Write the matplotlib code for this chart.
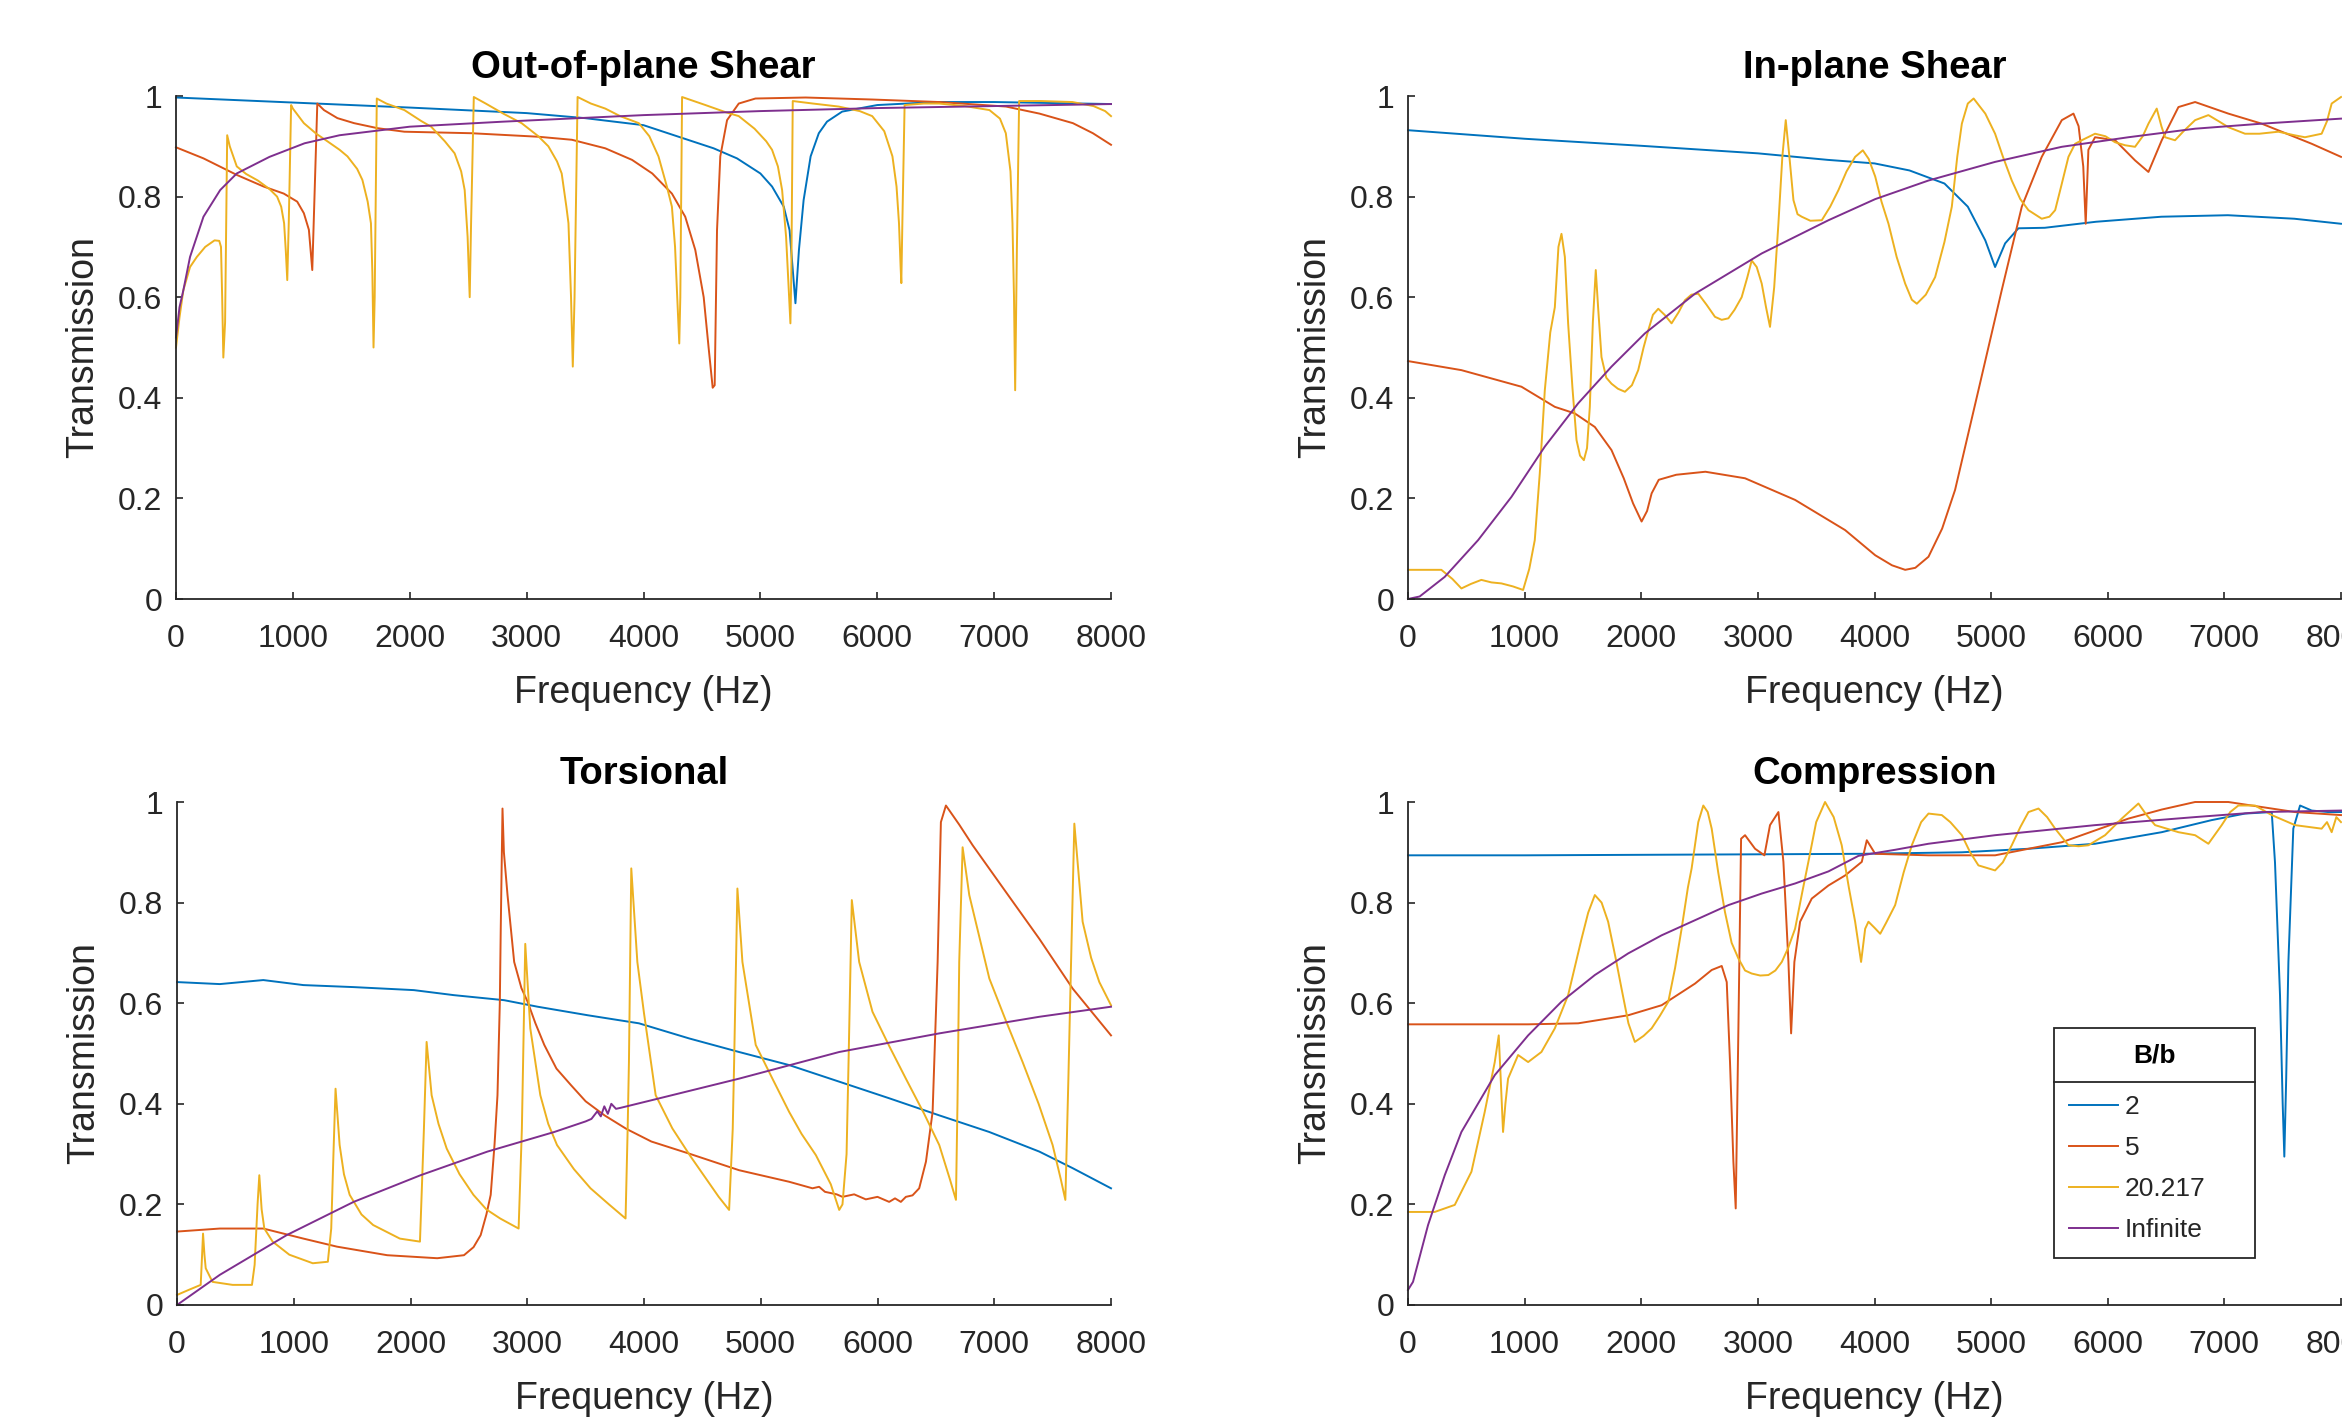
import matplotlib
matplotlib.use("Agg")
import matplotlib.pyplot as plt
from matplotlib.lines import Line2D

plt.rcParams['font.family'] = ['Liberation Sans', 'DejaVu Sans']

C_BLUE = '#0072BD'
C_RED = '#D95319'
C_YEL = '#EDB120'
C_PUR = '#7E2F8E'

series_labels = ['2', '5', '20.217', 'Infinite']
x_ticks = [0, 1000, 2000, 3000, 4000, 5000, 6000, 7000, 8000]
y_ticks = [0, 0.2, 0.4, 0.6, 0.8, 1]
y_ticklabels = ['0', '0.2', '0.4', '0.6', '0.8', '1']

# ---------------- Out-of-plane Shear ----------------
oop_blue_f = [0, 1000, 2000, 3000, 3500, 4000, 4300, 4600, 4800, 5000, 5100, 5200, 5250, 5300,
              5330, 5370, 5430, 5500, 5570, 5700, 6000, 6500, 7000, 7500, 8000]
oop_blue_t = [0.997, 0.987, 0.977, 0.966, 0.956, 0.942, 0.919, 0.896, 0.876, 0.846, 0.82, 0.78, 0.733, 0.588,
              0.694, 0.793, 0.88, 0.926, 0.949, 0.969, 0.982, 0.988, 0.988, 0.986, 0.984]

oop_red_f = [0, 235, 521, 750, 922, 1037, 1094, 1137, 1166, 1209, 1266, 1381, 1524, 1725, 1954, 2527, 3100,
             3387, 3673, 3902, 4075, 4243, 4357, 4443, 4515, 4557, 4592, 4609, 4629, 4657, 4715, 4815, 4958,
             5387, 5959, 6531, 7102, 7388, 7674, 7845, 8000]
oop_red_t = [0.898, 0.876, 0.843, 0.82, 0.806, 0.79, 0.767, 0.734, 0.654, 0.985, 0.972, 0.956, 0.946, 0.936,
             0.929, 0.926, 0.919, 0.913, 0.896, 0.873, 0.846, 0.806, 0.76, 0.694, 0.60, 0.50, 0.42, 0.425,
             0.733, 0.88, 0.952, 0.985, 0.995, 0.997, 0.993, 0.988, 0.979, 0.965, 0.946, 0.926, 0.903]

oop_yel_f = [0, 30, 63, 120, 178, 250, 330, 370, 385, 395, 405, 420, 438, 460, 520, 600, 700, 800, 865, 900,
             925, 940, 952, 965, 985, 1000, 1094, 1200, 1295, 1400, 1467, 1550, 1595, 1640, 1668, 1680, 1690,
             1700, 1718, 1800, 1954, 2100, 2183, 2300, 2384, 2440, 2470, 2495, 2513, 2525, 2548, 2650, 2800,
             2957, 3100, 3186, 3260, 3300, 3340, 3358, 3380, 3395, 3410, 3436, 3550, 3673, 3800, 3960, 4050,
             4128, 4200, 4243, 4270, 4286, 4306, 4315, 4330, 4530, 4700, 4815, 4950, 5050, 5100, 5150, 5186,
             5220, 5243, 5257, 5265, 5277, 5450, 5670, 5850, 5957, 6060, 6130, 6165, 6186, 6200, 6206, 6215,
             6234, 6400, 6530, 6750, 6960, 7050, 7100, 7140, 7157, 7170, 7180, 7195, 7214, 7400, 7670, 7850,
             7950, 8000]
oop_yel_t = [0.50, 0.56, 0.614, 0.66, 0.68, 0.70, 0.713, 0.712, 0.70, 0.60, 0.48, 0.55, 0.922, 0.90, 0.86,
             0.845, 0.832, 0.815, 0.80, 0.78, 0.747, 0.69, 0.634, 0.75, 0.982, 0.975, 0.946, 0.925, 0.91,
             0.893, 0.88, 0.855, 0.833, 0.79, 0.747, 0.65, 0.50, 0.60, 0.995, 0.985, 0.972, 0.95, 0.939, 0.91,
             0.886, 0.85, 0.813, 0.72, 0.60, 0.75, 0.998, 0.985, 0.965, 0.946, 0.92, 0.90, 0.87, 0.846, 0.78,
             0.747, 0.60, 0.462, 0.60, 0.998, 0.985, 0.975, 0.96, 0.946, 0.92, 0.88, 0.82, 0.78, 0.70, 0.614,
             0.508, 0.60, 0.998, 0.982, 0.968, 0.96, 0.935, 0.91, 0.893, 0.86, 0.813, 0.72, 0.614, 0.548,
             0.65, 0.99, 0.985, 0.979, 0.97, 0.96, 0.93, 0.88, 0.82, 0.747, 0.66, 0.628, 0.75, 0.982, 0.985,
             0.985, 0.98, 0.972, 0.955, 0.926, 0.85, 0.747, 0.60, 0.415, 0.70, 0.99, 0.99, 0.988, 0.98, 0.97,
             0.96]

oop_pur_f = [0, 30, 63, 120, 235, 378, 520, 800, 1100, 1400, 2000, 2800, 4000, 5000, 6000, 7000, 8000]
oop_pur_t = [0.52, 0.58, 0.614, 0.68, 0.76, 0.813, 0.846, 0.879, 0.906, 0.922, 0.939, 0.949, 0.962, 0.97,
             0.976, 0.98, 0.984]

# ---------------- In-plane Shear ----------------
ips_blue_f = [0, 1000, 2000, 3000, 3600, 4000, 4300, 4600, 4800, 4950, 5034, 5120, 5234, 5460, 5900, 6460,
              7030, 7600, 8000]
ips_blue_t = [0.932, 0.915, 0.901, 0.886, 0.873, 0.866, 0.852, 0.826, 0.78, 0.713, 0.66, 0.707, 0.737, 0.738,
              0.75, 0.76, 0.763, 0.756, 0.746]

ips_red_f = [0, 458, 973, 1259, 1430, 1602, 1745, 1850, 1930, 2003, 2050, 2089, 2150, 2300, 2550, 2890, 3319,
             3748, 4006, 4150, 4263, 4350, 4463, 4580, 4691, 4891, 5091, 5263, 5434, 5606, 5706, 5750, 5790,
             5811, 5834, 5891, 6063, 6234, 6349, 6463, 6606, 6749, 7034, 7320, 7749, 8000]
ips_red_t = [0.473, 0.455, 0.422, 0.382, 0.369, 0.342, 0.296, 0.24, 0.19, 0.154, 0.175, 0.21, 0.237, 0.247,
             0.253, 0.24, 0.197, 0.137, 0.087, 0.067, 0.058, 0.062, 0.084, 0.14, 0.217, 0.415, 0.614, 0.78,
             0.879, 0.952, 0.965, 0.94, 0.86, 0.746, 0.893, 0.918, 0.912, 0.872, 0.849, 0.912, 0.978, 0.988,
             0.965, 0.945, 0.905, 0.879]

ips_yel_f = [0, 286, 380, 458, 540, 629, 715, 801, 900, 987, 1040, 1087, 1130, 1173, 1220, 1259, 1290, 1316,
             1345, 1373, 1410, 1445, 1475, 1508, 1535, 1559, 1585, 1610, 1630, 1659, 1700, 1745, 1800, 1860,
             1920, 1974, 2020, 2060, 2100, 2146, 2200, 2260, 2320, 2375, 2430, 2489, 2560, 2632, 2690, 2747,
             2800, 2861, 2910, 2947, 2990, 3033, 3070, 3104, 3140, 3176, 3210, 3239, 3270, 3305, 3340, 3376,
             3450, 3548, 3620, 3691, 3760, 3834, 3900, 3950, 4006, 4060, 4120, 4190, 4263, 4320, 4363, 4440,
             4520, 4600, 4663, 4710, 4749, 4800, 4850, 4950, 5034, 5100, 5177, 5250, 5320, 5434, 5500, 5549,
             5600, 5663, 5720, 5777, 5891, 5980, 6063, 6150, 6234, 6300, 6349, 6420, 6460, 6491, 6577, 6650,
             6749, 6863, 6950, 7034, 7177, 7300, 7463, 7600, 7691, 7834, 7880, 7920, 8000]
ips_yel_t = [0.058, 0.058, 0.04, 0.021, 0.03, 0.038, 0.033, 0.031, 0.025, 0.018, 0.06, 0.117, 0.25, 0.415,
             0.53, 0.58, 0.70, 0.726, 0.68, 0.548, 0.42, 0.316, 0.285, 0.276, 0.30, 0.382, 0.55, 0.654, 0.58,
             0.481, 0.44, 0.428, 0.418, 0.412, 0.425, 0.455, 0.50, 0.534, 0.565, 0.577, 0.565, 0.548, 0.57,
             0.594, 0.605, 0.607, 0.585, 0.561, 0.555, 0.558, 0.575, 0.60, 0.64, 0.673, 0.66, 0.627, 0.58,
             0.541, 0.62, 0.746, 0.88, 0.952, 0.88, 0.793, 0.765, 0.76, 0.752, 0.753, 0.78, 0.813, 0.85, 0.879,
             0.892, 0.875, 0.84, 0.79, 0.746, 0.68, 0.627, 0.595, 0.587, 0.605, 0.64, 0.71, 0.78, 0.88, 0.945,
             0.985, 0.995, 0.965, 0.925, 0.88, 0.832, 0.795, 0.773, 0.756, 0.76, 0.773, 0.82, 0.879, 0.905,
             0.912, 0.925, 0.92, 0.908, 0.902, 0.899, 0.92, 0.945, 0.975, 0.94, 0.918, 0.912, 0.93, 0.952,
             0.962, 0.95, 0.938, 0.925, 0.925, 0.929, 0.922, 0.918, 0.925, 0.95, 0.985, 0.998]

ips_pur_f = [0, 100, 315, 601, 887, 1173, 1459, 1745, 2031, 2461, 3033, 3605, 4006, 4463, 5034, 5606, 6177,
             6749, 7320, 8000]
ips_pur_t = [0.0, 0.005, 0.044, 0.117, 0.203, 0.303, 0.389, 0.462, 0.528, 0.607, 0.687, 0.753, 0.795, 0.832,
             0.869, 0.899, 0.918, 0.935, 0.945, 0.955]

# ---------------- Torsional ----------------
tor_blue_f = [0, 367, 739, 1083, 1513, 2029, 2372, 2802, 3089, 3519, 3957, 4386, 4814, 5243, 5672, 6100,
              6529, 6957, 7386, 7672, 8000]
tor_blue_t = [0.642, 0.638, 0.646, 0.636, 0.632, 0.626, 0.616, 0.606, 0.593, 0.576, 0.56, 0.53, 0.503,
              0.477, 0.444, 0.411, 0.377, 0.344, 0.305, 0.272, 0.232]

tor_red_f = [0, 367, 739, 1083, 1370, 1800, 2229, 2458, 2540, 2601, 2650, 2687, 2720, 2745, 2765, 2773, 2788,
             2800, 2831, 2888, 2950, 3003, 3070, 3146, 3250, 3375, 3500, 3662, 3850, 4063, 4386, 4814, 5243,
             5443, 5500, 5550, 5650, 5700, 5800, 5900, 6000, 6100, 6150, 6200, 6243, 6300, 6357, 6415, 6472,
             6515, 6543, 6586, 6700, 6815, 7100, 7386, 7672, 8000]
tor_red_t = [0.146, 0.152, 0.152, 0.132, 0.116, 0.099, 0.093, 0.099, 0.115, 0.139, 0.18, 0.219, 0.32, 0.417,
             0.60, 0.748, 0.987, 0.90, 0.815, 0.682, 0.63, 0.603, 0.56, 0.517, 0.47, 0.437, 0.405, 0.377, 0.35,
             0.325, 0.301, 0.268, 0.245, 0.232, 0.235, 0.225, 0.22, 0.215, 0.22, 0.21, 0.215, 0.205, 0.212,
             0.205, 0.215, 0.218, 0.232, 0.285, 0.384, 0.682, 0.96, 0.993, 0.955, 0.914, 0.821, 0.728, 0.629,
             0.536]

tor_yel_f = [0, 100, 203, 215, 223, 235, 246, 304, 476, 642, 665, 690, 705, 725, 748, 819, 962, 1163, 1292,
             1321, 1340, 1358, 1393, 1430, 1479, 1580, 1680, 1909, 2081, 2100, 2115, 2138, 2181, 2240, 2310,
             2420, 2539, 2650, 2768, 2926, 2940, 2954, 2983, 3026, 3112, 3180, 3255, 3400, 3542, 3700, 3842,
             3860, 3871, 3891, 3943, 4000, 4100, 4243, 4400, 4529, 4640, 4729, 4760, 4772, 4800, 4843, 4957,
             5100, 5243, 5350, 5472, 5600, 5672, 5700, 5735, 5752, 5780, 5843, 5957, 6100, 6243, 6400, 6529,
             6620, 6672, 6685, 6700, 6729, 6786, 6958, 7100, 7243, 7380, 7500, 7570, 7609, 7635, 7658, 7686,
             7757, 7830, 7900, 8000]
tor_yel_t = [0.02, 0.03, 0.04, 0.10, 0.142, 0.10, 0.073, 0.046, 0.04, 0.04, 0.08, 0.20, 0.258, 0.19, 0.152,
             0.126, 0.10, 0.083, 0.086, 0.152, 0.30, 0.43, 0.318, 0.26, 0.219, 0.18, 0.159, 0.132, 0.126, 0.25,
             0.351, 0.523, 0.417, 0.36, 0.311, 0.26, 0.219, 0.19, 0.172, 0.152, 0.25, 0.351, 0.718, 0.55,
             0.417, 0.36, 0.318, 0.27, 0.232, 0.20, 0.172, 0.35, 0.483, 0.868, 0.682, 0.58, 0.417, 0.351,
             0.295, 0.252, 0.215, 0.189, 0.35, 0.483, 0.828, 0.682, 0.517, 0.45, 0.384, 0.34, 0.298, 0.24,
             0.189, 0.20, 0.30, 0.483, 0.805, 0.682, 0.583, 0.515, 0.45, 0.38, 0.318, 0.25, 0.209, 0.40, 0.682,
             0.91, 0.815, 0.649, 0.565, 0.483, 0.40, 0.318, 0.25, 0.209, 0.45, 0.682, 0.957, 0.762, 0.69, 0.642,
             0.596]

tor_pur_f = [0, 367, 940, 1513, 2086, 2659, 3232, 3500, 3550, 3600, 3630, 3660, 3690, 3720, 3760, 3800, 4063,
             4814, 5672, 6529, 7386, 8000]
tor_pur_t = [0.0, 0.06, 0.139, 0.205, 0.258, 0.305, 0.344, 0.365, 0.37, 0.385, 0.375, 0.395, 0.38, 0.40,
             0.39, 0.392, 0.407, 0.45, 0.503, 0.54, 0.573, 0.593]

# ---------------- Compression ----------------
cmp_blue_f = [0, 1000, 2000, 3000, 3891, 4749, 5320, 5891, 6463, 6891, 7177, 7406, 7434, 7477, 7500, 7514,
              7530, 7549, 7591, 7649, 7749, 7891, 8000]
cmp_blue_t = [0.894, 0.894, 0.895, 0.896, 0.897, 0.90, 0.907, 0.917, 0.94, 0.964, 0.977, 0.98, 0.88, 0.616,
              0.40, 0.295, 0.45, 0.682, 0.947, 0.993, 0.983, 0.98, 0.98]

cmp_red_f = [0, 1030, 1459, 1888, 2175, 2461, 2604, 2690, 2733, 2761, 2790, 2810, 2833, 2856, 2890, 2976,
             3056, 3104, 3176, 3219, 3262, 3285, 3313, 3362, 3462, 3605, 3748, 3891, 3934, 4006, 4463, 5034,
             5606, 6177, 6463, 6749, 7034, 7320, 7606, 8000]
cmp_red_t = [0.558, 0.558, 0.56, 0.576, 0.596, 0.639, 0.666, 0.674, 0.642, 0.483, 0.285, 0.192, 0.55, 0.927,
             0.934, 0.907, 0.894, 0.954, 0.98, 0.881, 0.682, 0.54, 0.682, 0.762, 0.808, 0.834, 0.854, 0.881,
             0.924, 0.897, 0.894, 0.894, 0.92, 0.967, 0.985, 1.0, 1.0, 0.99, 0.98, 0.974]

cmp_yel_f = [0, 229, 401, 544, 658, 744, 778, 795, 815, 835, 858, 944, 1030, 1144, 1259, 1373, 1488, 1545,
             1602, 1660, 1716, 1780, 1831, 1890, 1945, 2020, 2089, 2160, 2232, 2290, 2346, 2400, 2432, 2489,
             2532, 2570, 2604, 2660, 2718, 2775, 2833, 2890, 2947, 3020, 3090, 3150, 3205, 3260, 3319, 3380,
             3433, 3500, 3576, 3650, 3719, 3780, 3834, 3885, 3920, 3948, 4000, 4049, 4100, 4177, 4250, 4320,
             4400, 4463, 4577, 4650, 4749, 4820, 4891, 5034, 5100, 5177, 5250, 5320, 5406, 5480, 5549, 5663,
             5750, 5834, 5977, 6120, 6263, 6330, 6406, 6606, 6749, 6863, 6977, 7050, 7120, 7263, 7406, 7606,
             7834, 7880, 7920, 7960, 8000]
cmp_yel_t = [0.185, 0.185, 0.199, 0.265, 0.384, 0.483, 0.536, 0.45, 0.344, 0.40, 0.45, 0.497, 0.483, 0.503,
             0.55, 0.616, 0.728, 0.78, 0.815, 0.80, 0.762, 0.69, 0.629, 0.56, 0.523, 0.535, 0.55, 0.575, 0.603,
             0.67, 0.748, 0.83, 0.868, 0.96, 0.993, 0.98, 0.947, 0.86, 0.781, 0.72, 0.689, 0.665, 0.659, 0.655,
             0.656, 0.665, 0.682, 0.71, 0.748, 0.82, 0.881, 0.96, 1.0, 0.97, 0.914, 0.83, 0.762, 0.682, 0.748,
             0.762, 0.75, 0.738, 0.76, 0.795, 0.86, 0.914, 0.96, 0.977, 0.974, 0.96, 0.934, 0.90, 0.874, 0.864,
             0.88, 0.914, 0.95, 0.98, 0.987, 0.97, 0.947, 0.914, 0.912, 0.914, 0.934, 0.967, 0.997, 0.975,
             0.954, 0.94, 0.934, 0.917, 0.954, 0.98, 0.993, 0.993, 0.974, 0.954, 0.947, 0.96, 0.94, 0.97, 0.96]

cmp_pur_f = [0, 43, 172, 315, 458, 744, 1030, 1316, 1602, 1888, 2175, 2461, 2747, 3033, 3319, 3605, 3863,
             4177, 4463, 5034, 5891, 6749, 7320, 8000]
cmp_pur_t = [0.03, 0.046, 0.159, 0.258, 0.344, 0.457, 0.536, 0.603, 0.656, 0.699, 0.735, 0.765, 0.795, 0.818,
             0.838, 0.862, 0.893, 0.905, 0.917, 0.934, 0.954, 0.97, 0.98, 0.983]

panels = [
    ("Out-of-plane Shear", [(oop_blue_f, oop_blue_t), (oop_red_f, oop_red_t), (oop_yel_f, oop_yel_t), (oop_pur_f, oop_pur_t)]),
    ("In-plane Shear", [(ips_blue_f, ips_blue_t), (ips_red_f, ips_red_t), (ips_yel_f, ips_yel_t), (ips_pur_f, ips_pur_t)]),
    ("Torsional", [(tor_blue_f, tor_blue_t), (tor_red_f, tor_red_t), (tor_yel_f, tor_yel_t), (tor_pur_f, tor_pur_t)]),
    ("Compression", [(cmp_blue_f, cmp_blue_t), (cmp_red_f, cmp_red_t), (cmp_yel_f, cmp_yel_t), (cmp_pur_f, cmp_pur_t)]),
]
colors = [C_BLUE, C_RED, C_YEL, C_PUR]

W, H = 2342, 1417
fig = plt.figure(figsize=(W / 100, H / 100), dpi=100)

ax_rects = [
    (176 / W, 1 - 599 / H, 935 / W, 503 / H),
    (1408 / W, 1 - 599 / H, 933 / W, 503 / H),
    (177 / W, 1 - 1305 / H, 934 / W, 503 / H),
    (1408 / W, 1 - 1305 / H, 933 / W, 503 / H),
]

DARK = '#262626'
axes = []
for rect, (title, data) in zip(ax_rects, panels):
    ax = fig.add_axes(rect)
    axes.append(ax)
    for (f, t), c, lab in zip(data, colors, series_labels):
        ax.plot(f, t, color=c, lw=1.4, label=lab, clip_on=False)
    ax.set_xlim(0, 8000)
    ax.set_ylim(0, 1)
    ax.set_xticks(x_ticks)
    ax.set_xticklabels([str(v) for v in x_ticks])
    ax.set_yticks(y_ticks)
    ax.set_yticklabels(y_ticklabels)
    for s in ['top', 'right']:
        ax.spines[s].set_visible(False)
    for s in ['left', 'bottom']:
        ax.spines[s].set_color(DARK)
        ax.spines[s].set_linewidth(1.3)
    ax.tick_params(axis='both', direction='in', length=5, width=1.2, colors=DARK, labelsize=23)
    ax.tick_params(axis='x', pad=18)
    ax.tick_params(axis='y', pad=10)
    ax.set_xlabel('Frequency (Hz)', fontsize=27, color=DARK, labelpad=15)
    ax.set_ylabel('Transmission', fontsize=27, color=DARK, labelpad=12)
    ax.set_title(title, fontsize=27.5, fontweight='bold', color='black', pad=13)
    ax.patch.set_alpha(0)

ax = axes[3]
leg = ax.legend(title='B/b', loc='upper left', bbox_to_anchor=(0.692, 0.109, 0.216, 0.442), mode='expand',
                fontsize=19, title_fontproperties={'weight': 'bold', 'size': 19}, frameon=True,
                fancybox=False, edgecolor=DARK, handlelength=1.85, handletextpad=0.25, labelspacing=0.64,
                borderpad=0.6, borderaxespad=0, framealpha=1)
leg.get_frame().set_linewidth(1.3)
for txt in leg.get_texts():
    txt.set_color(DARK)
leg._legend_box.sep = 20

fig.canvas.draw()
r = fig.canvas.get_renderer()
fb = leg.get_frame().get_window_extent(r)
tb = leg.get_title().get_window_extent(r)
t0 = leg.get_texts()[0].get_window_extent(r)
ysep = 0.5 * (tb.y0 + t0.y1)
inv = fig.transFigure.inverted()
(x0f, yf), (x1f, _) = inv.transform([(fb.x0, ysep), (fb.x1, ysep)])
fig.add_artist(Line2D([x0f, x1f], [yf, yf], transform=fig.transFigure, color=DARK, lw=1.3))

fig.savefig('out.png', dpi=100)
